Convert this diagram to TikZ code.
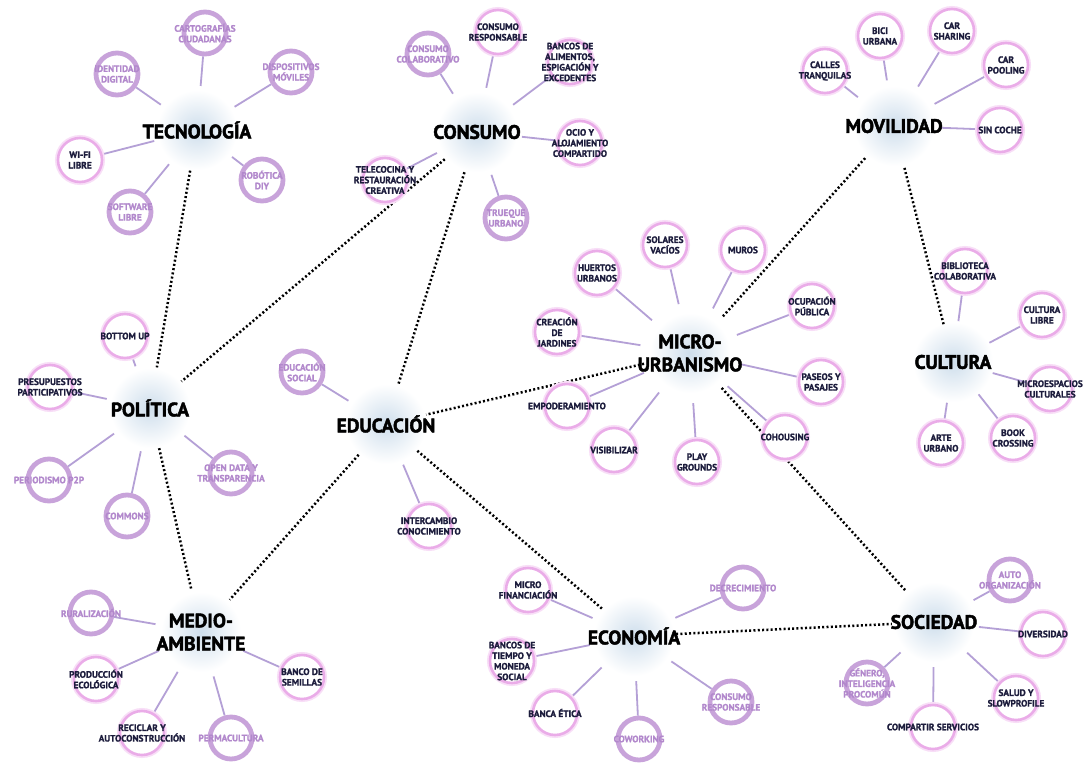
\documentclass[tikz,border=0pt]{standalone}
\usepackage{fontspec}
\setmainfont{PT Sans}[BoldFeatures={FakeBold=1.2}]
\newfontfamily\hubfont{PT Sans}[BoldFeatures={FakeBold=2.2}]
\definecolor{pinkring}{RGB}{234,172,232}
\definecolor{pinksoft}{RGB}{248,222,247}
\definecolor{purpring}{RGB}{200,163,218}
\definecolor{purptext}{RGB}{178,136,204}
\definecolor{darktext}{RGB}{28,28,60}
\definecolor{spokecol}{RGB}{180,160,214}
\definecolor{glowcol}{RGB}{206,222,236}
\pgfdeclarelayer{background}
\pgfdeclarelayer{paper}
\pgfsetlayers{paper,background,main}
\tikzset{
 hubc/.style={circle, inner sep=0pt},
 hubtext/.style={font=\hubfont\fontsize{19.5}{23}\selectfont\bfseries, align=center, text=black, inner sep=0pt},
 pleafc/.style={circle, draw=pinkring, line width=2.6pt, fill=white, minimum size=44pt, inner sep=0pt,
   preaction={draw=pinksoft, line width=6pt}},
 uleafc/.style={circle, draw=purpring, line width=4.8pt, fill=white, minimum size=42pt, inner sep=0pt},
 ptext/.style={font=\fontsize{9.3}{10.6}\selectfont\bfseries, text=darktext, align=center, inner sep=0pt},
 utext/.style={font=\fontsize{9.3}{10.6}\selectfont\bfseries, text=purptext, align=center, inner sep=0pt},
 spoke/.style={draw=spokecol, line width=1.8pt, shorten >=8pt},
 dotlink/.style={draw=black, line width=2.5pt, dash pattern=on 2pt off 2.3pt, shorten <=5pt, shorten >=5pt},
}
\newcommand\hubnode[4]{%
 \node[hubc, minimum size=#3] (#1) at (#2) {};
 \begin{pgfonlayer}{background}
 \shade[inner color=glowcol, outer color=white] (#1.center) circle (40pt);
 \end{pgfonlayer}
 \node[hubtext] (#1L) at (#1) {#4};
}
\newcommand\pleaf[4]{%
 \node[pleafc] (#1) at (#2) {};
 \node[ptext] (#1t) at (#1) {#4};
 \begin{pgfonlayer}{background}\draw[spoke] (#1) -- (#3);\end{pgfonlayer}
}
\newcommand\uleaf[4]{%
 \node[uleafc] (#1) at (#2) {};
 \node[utext] (#1t) at (#1) {#4};
 \begin{pgfonlayer}{background}\draw[spoke] (#1) -- (#3);\end{pgfonlayer}
}
\begin{document}
\begin{tikzpicture}[x=1pt,y=-1pt]
\begin{pgfonlayer}{paper}
\fill[white] (0,0) rectangle (1083,768);
\end{pgfonlayer}
\useasboundingbox (0,0) rectangle (1083,768);
% hubs
\hubnode{tec}{197,130}{72pt}{TECNOLOGÍA}
\hubnode{cons}{477,132}{74pt}{CONSUMO}
\hubnode{mov}{894,126}{76pt}{MOVILIDAD}
\hubnode{micro}{690,353}{84pt}{MICRO-\\URBANISMO}
\hubnode{cult}{953,362}{66pt}{CULTURA}
\hubnode{pol}{150,408}{72pt}{POLÍTICA}
\hubnode{edu}{386,424}{72pt}{EDUCACIÓN}
\hubnode{medio}{201,632}{76pt}{MEDIO-\\AMBIENTE}
\hubnode{econ}{634,636}{74pt}{ECONOMÍA}
\hubnode{soc}{934,622}{74pt}{SOCIEDAD}
% dotted links
\begin{pgfonlayer}{background}
\draw[dotlink] (tec) -- (pol);
\draw[dotlink] (cons) -- (pol);
\draw[dotlink] (cons) -- (edu);
\draw[dotlink] (mov) -- (micro);
\draw[dotlink] (mov) -- (cult);
\draw[dotlink] (micro) -- (edu);
\draw[dotlink] (micro) -- (soc);
\draw[dotlink] (pol) -- (medio);
\draw[dotlink] (edu) -- (medio);
\draw[dotlink] (edu) -- (econ);
\draw[dotlink] (econ) -- (soc);
\end{pgfonlayer}
% Tecnologia
\uleaf{cart}{205,33}{tec}{CARTOGRAFÍAS\\CIUDADANAS}
\uleaf{ident}{117,74}{tec}{IDENTIDAD\\DIGITAL}
\uleaf{disp}{291,72}{tec}{DISPOSITIVOS\\MÓVILES}
\pleaf{wifi}{80,160}{tec}{WI-FI\\LIBRE}
\uleaf{soft}{130,212}{tec}{SOFTWARE\\LIBRE}
\uleaf{robo}{262,180}{tec}{ROBÓTICA\\DIY}
% Consumo
\uleaf{colab}{428,54}{cons}{CONSUMO\\COLABORATIVO}
\pleaf{resp}{498,32}{cons}{CONSUMO\\RESPONSABLE}
\pleaf{banal}{570,62}{cons}{BANCOS DE\\ALIMENTOS,\\ESPIGACIÓN Y\\EXCEDENTES}
\pleaf{ocio}{580,143}{cons}{OCIO Y\\ALOJAMIENTO\\COMPARTIDO}
\pleaf{tele}{385,180}{cons}{TELECOCINA Y\\RESTAURACIÓN\\CREATIVA}
\uleaf{truq}{506,218}{cons}{TRUEQUE\\URBANO}
% Movilidad
\pleaf{calles}{825,71}{mov}{CALLES\\TRANQUILAS}
\pleaf{bici}{880,36}{mov}{BICI\\URBANA}
\pleaf{carsh}{952,31}{mov}{CAR\\SHARING}
\pleaf{carpo}{1006,65}{mov}{CAR\\POOLING}
\pleaf{sinco}{1000,130}{mov}{SIN COCHE}
% Micro-urbanismo
\pleaf{solar}{665,245}{micro}{SOLARES\\VACÍOS}
\pleaf{muros}{743,250}{micro}{MUROS}
\pleaf{huert}{597,273}{micro}{HUERTOS\\URBANOS}
\pleaf{ocup}{812,306}{micro}{OCUPACIÓN\\PÚBLICA}
\pleaf{jard}{557,332}{micro}{CREACIÓN\\DE\\JARDINES}
\pleaf{paseo}{821,382}{micro}{PASEOS Y\\PASAJES}
\pleaf{empod}{567,406}{micro}{EMPODERAMIENTO}
\pleaf{cohou}{785,437}{micro}{COHOUSING}
\pleaf{visib}{614,450}{micro}{VISIBILIZAR}
\pleaf{play}{697,462}{micro}{PLAY\\GROUNDS}
% Cultura
\pleaf{bibl}{965,271}{cult}{BIBLIOTECA\\COLABORATIVA}
\pleaf{cultl}{1042,315}{cult}{CULTURA\\LIBRE}
\pleaf{mesp}{1050,389}{cult}{MICROESPACIOS\\CULTURALES}
\pleaf{book}{1013,438}{cult}{BOOK\\CROSSING}
\pleaf{arte}{941,443}{cult}{ARTE\\URBANO}
% Politica
\pleaf{bott}{125,336}{pol}{BOTTOM UP}
\pleaf{presu}{50,387}{pol}{PRESUPUESTOS\\PARTICIPATIVOS}
\uleaf{perio}{49,480}{pol}{PERIODISMO P2P}
\uleaf{comm}{127,516}{pol}{COMMONS}
\uleaf{opend}{231,473}{pol}{OPEN DATA Y\\TRANSPARENCIA}
% Educacion
\uleaf{edsoc}{302,372}{edu}{EDUCACIÓN\\SOCIAL}
\pleaf{inter}{429,526}{edu}{INTERCAMBIO\\CONOCIMIENTO}
% Medio-ambiente
\uleaf{rural}{91,613}{medio}{RURALIZACIÓN}
\pleaf{prod}{96,679}{medio}{PRODUCCIÓN\\ECOLÓGICA}
\pleaf{recic}{142,733}{medio}{RECICLAR Y\\AUTOCONSTRUCCIÓN}
\uleaf{perma}{231,738}{medio}{PERMACULTURA}
\pleaf{semil}{302,677}{medio}{BANCO DE\\SEMILLAS}
% Economia
\pleaf{mfin}{528,590}{econ}{MICRO\\FINANCIACIÓN}
\uleaf{decr}{743,588}{econ}{DECRECIMIENTO}
\pleaf{btiem}{512,661}{econ}{BANCOS DE\\TIEMPO Y\\MONEDA\\SOCIAL}
\pleaf{banca}{555,713}{econ}{BANCA ÉTICA}
\uleaf{cowk}{639,739}{econ}{COWORKING}
\uleaf{cresp}{731,702}{econ}{CONSUMO\\RESPONSABLE}
% Sociedad
\uleaf{autoo}{1010,580}{soc}{AUTO\\ORGANIZACIÓN}
\pleaf{diver}{1043,634}{soc}{DIVERSIDAD}
\uleaf{gener}{867,683}{soc}{GÉNERO,\\INTELIGENCIA\\PROCOMÚN}
\pleaf{compa}{933,727}{soc}{COMPARTIR SERVICIOS}
\pleaf{salud}{1016,698}{soc}{SALUD Y\\SLOWPROFILE}
\end{tikzpicture}
\end{document}
